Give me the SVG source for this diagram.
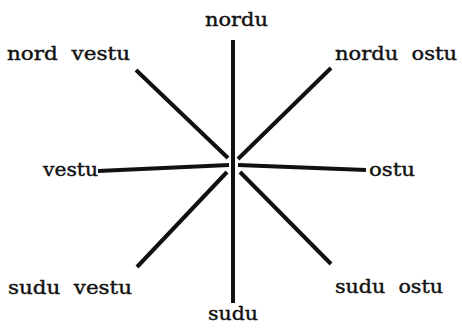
<svg xmlns="http://www.w3.org/2000/svg" width="462" height="332" viewBox="0 0 462 332">
<style>
.lbl{font-family:"DejaVu Serif","Liberation Serif",serif;font-size:19px;font-weight:normal;fill:#111;stroke:#111;stroke-width:0.4}
.ray{stroke:#111;stroke-width:4;stroke-linecap:butt;fill:none}
</style>
<rect width="462" height="332" fill="#fff"/>
<g id="connectors">
<line class="ray" x1="233" y1="40" x2="233" y2="303"/>
<line class="ray" x1="136" y1="70" x2="228" y2="158"/>
<line class="ray" x1="331" y1="68" x2="238" y2="159"/>
<line class="ray" x1="98" y1="171" x2="229" y2="165"/>
<line class="ray" x1="238" y1="165" x2="366" y2="170"/>
<line class="ray" x1="227" y1="172" x2="137" y2="267"/>
<line class="ray" x1="240" y1="172" x2="331" y2="264"/>
</g>
<g id="n"><text class="lbl" x="205" y="26" textLength="63" lengthAdjust="spacingAndGlyphs">nordu</text></g>
<g id="nw"><text class="lbl" x="7" y="60" xml:space="preserve" textLength="123" lengthAdjust="spacingAndGlyphs">nord  vestu</text></g>
<g id="ne"><text class="lbl" x="335" y="60" xml:space="preserve" textLength="122" lengthAdjust="spacingAndGlyphs">nordu  ostu</text></g>
<g id="w"><text class="lbl" x="43" y="176" textLength="55" lengthAdjust="spacingAndGlyphs">vestu</text></g>
<g id="e"><text class="lbl" x="369" y="176" textLength="46" lengthAdjust="spacingAndGlyphs">ostu</text></g>
<g id="sw"><text class="lbl" x="8" y="294" xml:space="preserve" textLength="124" lengthAdjust="spacingAndGlyphs">sudu  vestu</text></g>
<g id="se"><text class="lbl" x="335" y="293" xml:space="preserve" textLength="108" lengthAdjust="spacingAndGlyphs">sudu  ostu</text></g>
<g id="s"><text class="lbl" x="208" y="320" textLength="50" lengthAdjust="spacingAndGlyphs">sudu</text></g>
</svg>
